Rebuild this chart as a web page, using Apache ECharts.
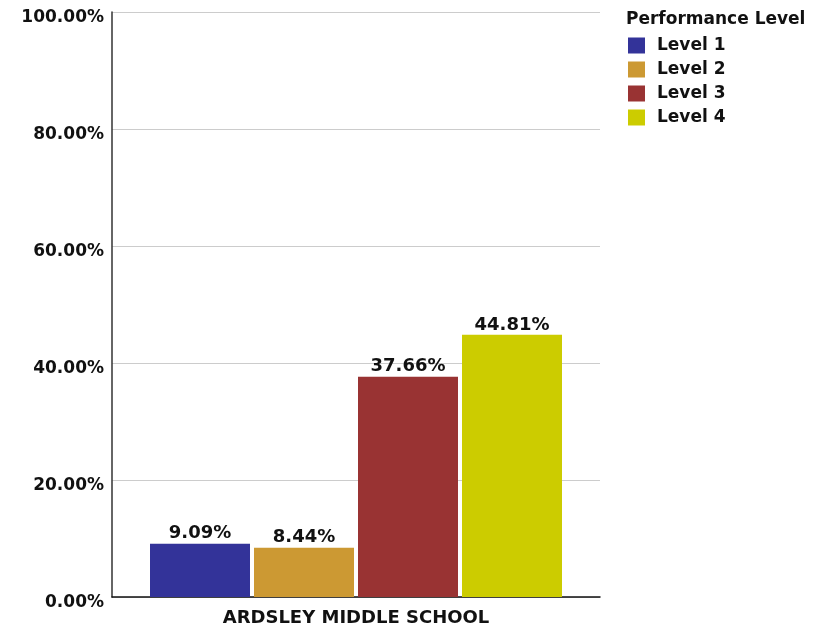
<!DOCTYPE html>
<html>
<head>
<meta charset="utf-8">
<script src="https://cdn.jsdelivr.net/npm/echarts@6/dist/echarts.min.js"></script>
<style>
  html, body { margin: 0; padding: 0; background: #fff; }
  #chart { width: 835px; height: 627px; }
</style>
</head>
<body>
<div id="chart"></div>
<script>
// data
var categories = ['ARDSLEY MIDDLE SCHOOL'];
var levelNames = ['Level 1', 'Level 2', 'Level 3', 'Level 4'];
var levelValues = [9.09, 8.44, 37.66, 44.81];
var levelColors = ['#333399', '#cc9933', '#993333', '#cccc00'];

var font = 'DejaVu Sans, Verdana, sans-serif';
var chart = echarts.init(document.getElementById('chart'));

var series = levelNames.map(function (name, i) {
    return {
        name: name,
        type: 'bar',
        data: [levelValues[i]],
        barWidth: 100,
        barGap: '4%',
        itemStyle: { color: levelColors[i] },
        label: {
            show: true,
            position: 'top',
            distance: 1,
            color: '#111',
            fontFamily: font,
            fontWeight: 'bold',
            fontSize: 18,
            formatter: function (p) { return p.value.toFixed(2) + '%'; }
        }
    };
});

chart.setOption({
    animation: false,
    title: {
        text: 'Performance Level',
        left: 621,
        top: 6,
        textStyle: { fontFamily: font, fontWeight: 'bold', fontSize: 17, color: '#111' }
    },
    legend: {
        orient: 'vertical',
        left: 623,
        top: 32,
        itemWidth: 17,
        itemHeight: 16,
        itemGap: 7,
        icon: 'rect',
        data: levelNames,
        textStyle: {
            fontFamily: font, fontWeight: 'bold', fontSize: 17, color: '#111',
            padding: [0, 0, 0, 7]
        }
    },
    grid: { left: 112, right: 235, top: 12, bottom: 30 },
    xAxis: {
        type: 'category',
        data: categories,
        axisLine: { lineStyle: { color: '#111', width: 1.5 } },
        axisTick: { show: false },
        axisLabel: {
            margin: 12,
            color: '#111',
            fontFamily: font,
            fontWeight: 'bold',
            fontSize: 18
        }
    },
    yAxis: {
        type: 'value',
        min: 0,
        max: 100,
        interval: 20,
        axisLine: { show: true, lineStyle: { color: '#333', width: 1.5 } },
        axisTick: { show: false },
        splitLine: { lineStyle: { color: '#cccccc' } },
        axisLabel: {
            margin: 8,
            verticalAlign: 'top',
            lineHeight: 11,
            color: '#111',
            fontFamily: font,
            fontWeight: 'bold',
            fontSize: 17,
            formatter: function (v) { return v.toFixed(2) + '%'; }
        }
    },
    series: series
});
</script>
</body>
</html>
